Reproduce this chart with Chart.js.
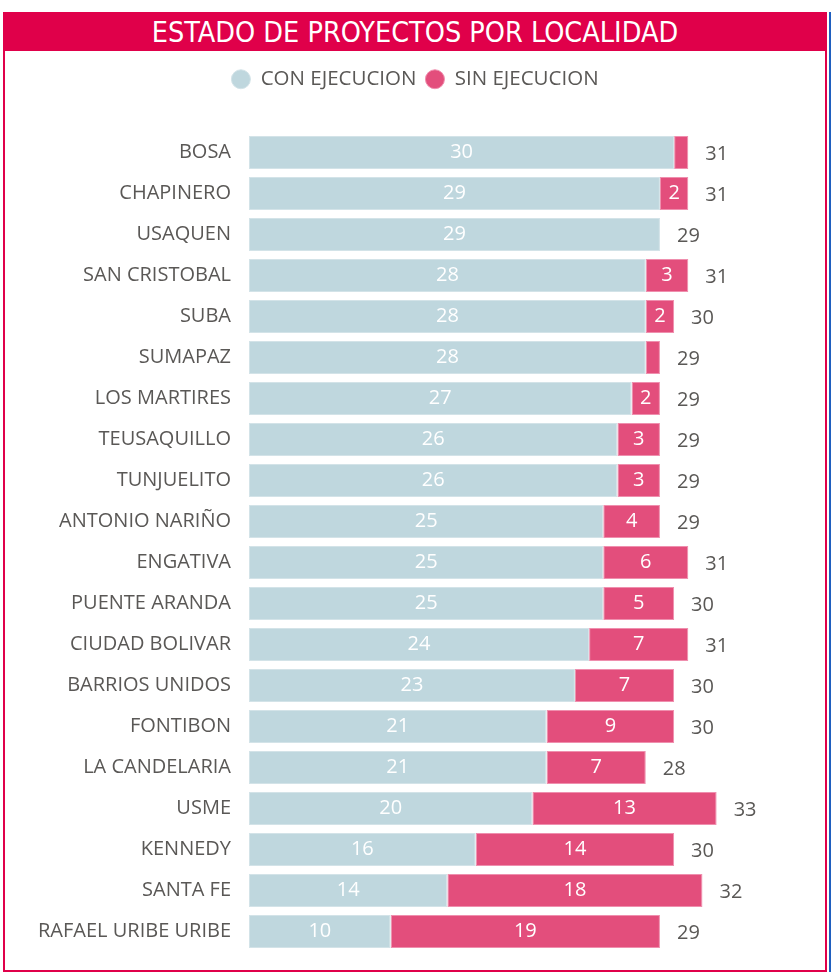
<!DOCTYPE html>
<html lang="es">
<head>
<meta charset="utf-8">
<title>Estado de proyectos por localidad</title>
<script src="https://cdn.jsdelivr.net/npm/chart.js@4.4.1/dist/chart.umd.min.js"></script>
<style>
  html, body { margin: 0; padding: 0; background: #fff; }
  body { width: 832px; height: 978px; position: relative; overflow: hidden; }
  .marco {
    position: absolute; left: 3px; top: 12px; width: 820px; height: 956px;
    border: 2px solid #e0004a;
  }
  .linea-azul { position: absolute; left: 829px; top: 12px; width: 2px; height: 960px; background: #1f5fbf; }
  .cabecera {
    position: absolute; left: 0; top: 0; right: 0; height: 37px;
    background: #e0004a; color: #fff; text-align: center;
    font-family: "DejaVu Sans Condensed", "DejaVu Sans", sans-serif;
    font-size: 28.5px; line-height: 37px; letter-spacing: 0;
  }
  #grafico { position: absolute; left: 0; top: 0; }
</style>
</head>
<body>
<div class="marco"><div class="cabecera">ESTADO DE PROYECTOS POR LOCALIDAD</div></div>
<div class="linea-azul"></div>
<canvas id="grafico" width="832" height="978"></canvas>

<script>
// --- DONNÉES ---
const localidades = ['BOSA', 'CHAPINERO', 'USAQUEN', 'SAN CRISTOBAL', 'SUBA', 'SUMAPAZ', 'LOS MARTIRES',
    'TEUSAQUILLO', 'TUNJUELITO', 'ANTONIO NARIÑO', 'ENGATIVA', 'PUENTE ARANDA', 'CIUDAD BOLIVAR',
    'BARRIOS UNIDOS', 'FONTIBON', 'LA CANDELARIA', 'USME', 'KENNEDY', 'SANTA FE', 'RAFAEL URIBE URIBE'];
const conEjecucion = [30, 29, 29, 28, 28, 28, 27, 26, 26, 25, 25, 25, 24, 23, 21, 21, 20, 16, 14, 10];
const sinEjecucion = [1, 2, 0, 3, 2, 1, 2, 3, 3, 4, 6, 5, 7, 7, 9, 7, 13, 14, 18, 19];
const totales = [31, 31, 29, 31, 30, 29, 29, 29, 29, 29, 31, 30, 31, 30, 30, 28, 33, 30, 32, 29];

const fuente = '"Open Sans", "Noto Sans", sans-serif';
const gris = '#5a5856';

// --- ÉTIQUETTES (valeurs dans les barres + totaux) ---
const etiquetas = {
    id: 'etiquetas',
    afterDatasetsDraw(chart) {
        const ctx = chart.ctx;
        ctx.save();
        ctx.font = '20px ' + fuente;
        ctx.textBaseline = 'middle';
        chart.data.datasets.forEach((ds, i) => {
            chart.getDatasetMeta(i).data.forEach((bar, j) => {
                const v = ds.data[j];
                if (v < 2) return; // trop étroit
                ctx.fillStyle = '#fff';
                ctx.textAlign = 'center';
                ctx.fillText(v, (bar.base + bar.x) / 2, bar.y);
            });
        });
        const metaSin = chart.getDatasetMeta(1);
        metaSin.data.forEach((bar, j) => {
            ctx.fillStyle = gris;
            ctx.textAlign = 'left';
            ctx.fillText(totales[j], bar.x + 17, bar.y + 2);
        });
        ctx.restore();
    }
};

// hauteur fixe de la légende
const alturaLeyenda = {
    id: 'alturaLeyenda',
    beforeInit(chart) {
        const fitOrig = chart.legend.fit;
        chart.legend.fit = function () {
            fitOrig.bind(chart.legend)();
            this.height = 72;
        };
    }
};

const ctx = document.getElementById('grafico');
new Chart(ctx, {
    type: 'bar',
    data: {
        labels: localidades,
        datasets: [{
            label: 'CON EJECUCION',
            data: conEjecucion,
            backgroundColor: '#bfd7de',
            borderColor: '#d3e3e8',
            borderWidth: 1,
            borderSkipped: false
        }, {
            label: 'SIN EJECUCION',
            data: sinEjecucion,
            backgroundColor: '#e34e7c',
            borderColor: '#ef8fae',
            borderWidth: 1,
            borderSkipped: false
        }]
    },
    options: {
        indexAxis: 'y',
        responsive: false,
        animation: false,
        devicePixelRatio: 1,
        categoryPercentage: 1,
        barPercentage: 0.8,
        layout: { padding: { top: 60, left: 0, right: 2, bottom: 26 } },
        scales: {
            x: { stacked: true, display: false, min: 0, max: 41 },
            y: {
                stacked: true,
                grid: { display: false },
                border: { display: false },
                ticks: { color: gris, font: { family: fuente, size: 20 }, padding: 10 },
                afterFit(scale) { scale.width = 249; }
            }
        },
        plugins: {
            legend: {
                position: 'top',
                labels: {
                    usePointStyle: true,
                    pointStyle: 'circle',
                    pointStyleWidth: 19,
                    boxHeight: 13.4,
                    padding: 9,
                    color: gris,
                    font: { family: fuente, size: 20.5 }
                }
            },
            tooltip: { enabled: false }
        }
    },
    plugins: [etiquetas, alturaLeyenda]
});
</script>
</body>
</html>
